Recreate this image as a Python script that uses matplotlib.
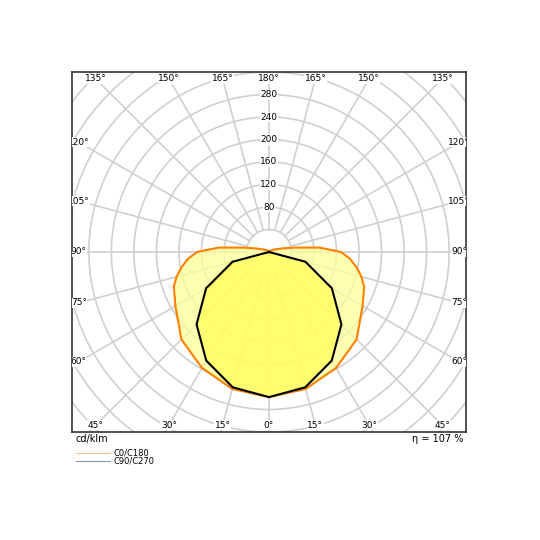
import numpy as np
import matplotlib
matplotlib.use("Agg")
import matplotlib.pyplot as plt

# C0/C180 intensities (cd/klm) vs gamma angle (deg), symmetric
c0_angles = [0, 15, 30, 45, 60, 70, 75, 80, 85, 90, 95, 100, 105, 120, 150, 180]
c0_values = [258, 252, 238, 220, 192, 180, 170, 158, 145, 128, 90, 45, 25, 8, 2, 0]
# C90/C270
c90_angles = [0, 15, 30, 45, 60, 75, 90, 180]
c90_values = [258, 249, 223, 182, 129, 67, 0, 0]
ring_values = [40, 80, 120, 160, 200, 240, 280, 320, 360, 400, 440, 480]
ring_labels = [80, 120, 160, 200, 240, 280]
angle_labels = [0, 15, 30, 45, 60, 75, 90, 105, 120, 135, 150, 165, 180]
eta_text = "η = 107 %"

def xy(angles, vals):
    a = np.radians(np.array(angles, float)); v = np.array(vals, float)
    ang = np.concatenate([-a[::-1], a[1:]])
    vv = np.concatenate([v[::-1], v[1:]])
    return vv * np.sin(ang), -vv * np.cos(ang)

fig = plt.figure(figsize=(5.4, 5.4), dpi=100)
ax = fig.add_axes([72/540, 108/540, 394/540, 360/540])
XL, YL = 350, 320
ax.set_xlim(-XL, XL); ax.set_ylim(-YL, YL)
ax.set_xticks([]); ax.set_yticks([])
for s in ax.spines.values():
    s.set_color("#333333"); s.set_linewidth(1.2)

t = np.linspace(0, 2*np.pi, 400)
for r in ring_values:
    ax.plot(r*np.cos(t), r*np.sin(t), color="#d0d0d0", lw=1.2, zorder=1)
for d in range(0, 360, 15):
    a = np.radians(d)
    ax.plot([40*np.sin(a), 600*np.sin(a)], [-40*np.cos(a), -600*np.cos(a)],
            color="#d0d0d0", lw=1.2, zorder=1)

x0, y0 = xy(c0_angles, c0_values)
x9, y9 = xy(c90_angles, c90_values)
ax.fill(x0, y0, color="#ffff99", alpha=0.75, zorder=2, lw=0)
ax.fill(x9, y9, color="#ffff55", alpha=0.7, zorder=3, lw=0)
ax.plot(x0, y0, color="#ff7f00", lw=1.5, zorder=4)
ax.plot(x9, y9, color="black", lw=1.5, zorder=5)

for v in ring_labels:
    ax.text(0, v, str(v), fontsize=6.5, ha="center", va="center", zorder=6,
            bbox=dict(facecolor="white", edgecolor="none", pad=0.5))

Xw, Yh = 338, 308
for d in angle_labels:
    for sgn in ([1] if d in (0, 180) else [-1, 1]):
        a = np.radians(d)
        dx, dy = sgn*np.sin(a), -np.cos(a)
        k = min(Xw/abs(dx) if abs(dx) > 1e-9 else 1e9, Yh/abs(dy) if abs(dy) > 1e-9 else 1e9)
        ax.text(k*dx, k*dy, f"{d}°", fontsize=6.5, ha="center", va="center", zorder=6,
                bbox=dict(facecolor="white", edgecolor="none", pad=0.3), clip_on=True)

fig.text(76/540, 1-439/540, "cd/klm", fontsize=7, ha="left", va="center")
fig.text(463/540, 1-439/540, eta_text, fontsize=7, ha="right", va="center")
fig.add_artist(plt.Line2D([76/540, 110/540], [1-453/540]*2, color="#ffbf80", lw=0.8))
fig.add_artist(plt.Line2D([76/540, 110/540], [1-461/540]*2, color="#8899aa", lw=0.8))
fig.text(114/540, 1-453/540, "C0/C180", fontsize=6, va="center")
fig.text(114/540, 1-461/540, "C90/C270", fontsize=6, va="center")
fig.savefig("out.png", dpi=100)
